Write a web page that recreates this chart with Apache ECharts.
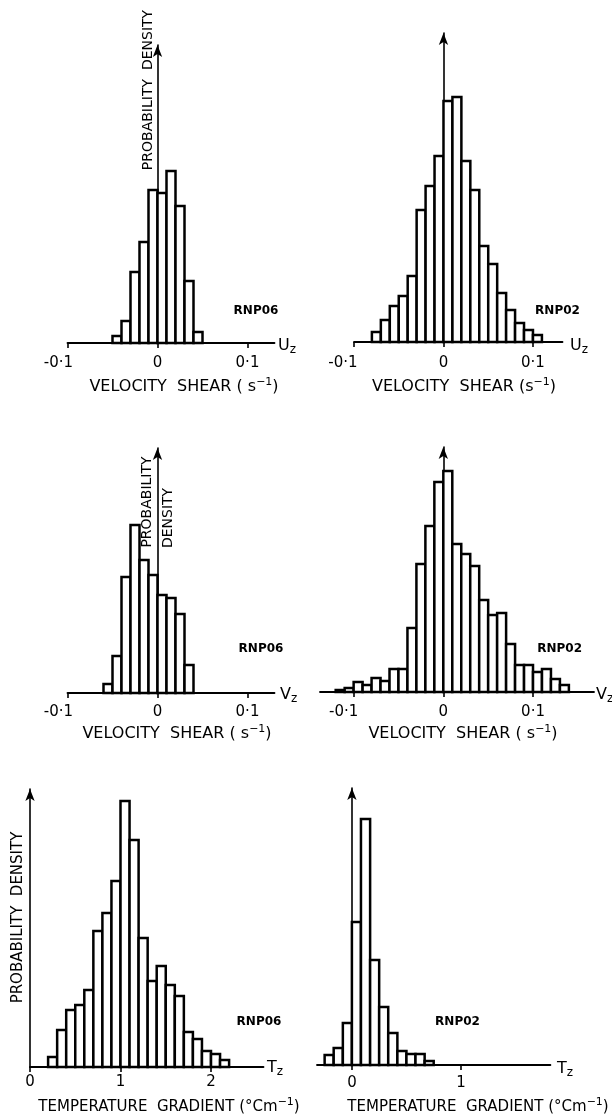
<!DOCTYPE html>
<html><head><meta charset="utf-8">
<script src="https://cdn.jsdelivr.net/npm/echarts@6/dist/echarts.min.js"></script>
<style>html,body{margin:0;padding:0;background:#fff}#c{width:612px;height:1114px}</style>
</head><body><div id="c"></div><script>
// ---- data (relative probability density, arbitrary units) ----
const uzEdges06 = [-0.05,-0.04,-0.03,-0.02,-0.01,0,0.01,0.02,0.03,0.04,0.05];
const uzDensity06 = [7,22,71,101,153,150,172,137,62,11];
const uzEdges02 = [-0.08,-0.07,-0.06,-0.05,-0.04,-0.03,-0.02,-0.01,0,0.01,0.02,0.03,0.04,0.05,0.06,0.07,0.08,0.09,0.10,0.11];
const uzDensity02 = [10,22,36,46,66,132,156,186,241,245,181,152,96,78,49,32,19,12,7];
const vzEdges06 = [-0.06,-0.05,-0.04,-0.03,-0.02,-0.01,0,0.01,0.02,0.03,0.04];
const vzDensity06 = [9,37,116,168,133,118,98,95,79,28];
const vzEdges02 = [-0.12,-0.11,-0.10,-0.09,-0.08,-0.07,-0.06,-0.05,-0.04,-0.03,-0.02,-0.01,0,0.01,0.02,0.03,0.04,0.05,0.06,0.07,0.08,0.09,0.10,0.11,0.12,0.13,0.14];
const vzDensity02 = [2,4,10,7,14,11,23,23,64,128,166,210,221,148,138,126,92,77,79,48,27,27,20,23,13,7];
const tzEdges06 = [0.2,0.3,0.4,0.5,0.6,0.7,0.8,0.9,1.0,1.1,1.2,1.3,1.4,1.5,1.6,1.7,1.8,1.9,2.0,2.1,2.2];
const tzDensity06 = [10,37,57,62,77,136,154,186,266,227,129,86,101,82,71,35,28,16,13,7];
const tzEdges02 = [-0.25,-0.167,-0.083,0,0.083,0.167,0.25,0.333,0.417,0.5,0.583,0.667,0.75];
const tzDensity02 = [10,17,42,143,246,105,58,32,14,11,11,4];
const velocityTicks = [-0.1, 0, 0.1];
const tempTicks06 = [0, 1, 2];
const tempTicks02 = [0, 1];

const FONT = 'DejaVu Sans';
const panels = [
  {grid:{left:67.5, top:45, width:207, height:298}, x:[-0.1,0.13], yMax:298, edges:uzEdges06, dens:uzDensity06, ticks:velocityTicks, margin:13, negPad:18},
  {grid:{left:354, top:33, width:208.5, height:309}, x:[-0.1,0.133], yMax:309, edges:uzEdges02, dens:uzDensity02, ticks:velocityTicks, margin:14, negPad:22},
  {grid:{left:67.5, top:448, width:207, height:245}, x:[-0.1,0.13], yMax:245, edges:vzEdges06, dens:vzDensity06, ticks:velocityTicks, margin:12, negPad:18},
  {grid:{left:320, top:447, width:274, height:245}, x:[-0.1375,0.168], yMax:245, edges:vzEdges02, dens:vzDensity02, ticks:velocityTicks, margin:13, negPad:20},
  {grid:{left:30, top:789, width:233.5, height:278}, x:[0,2.58], yMax:278, edges:tzEdges06, dens:tzDensity06, ticks:tempTicks06, margin:8, negPad:0},
  {grid:{left:317, top:788, width:233.4, height:277}, x:[-0.32,1.82], yMax:277, edges:tzEdges02, dens:tzDensity02, ticks:tempTicks02, margin:11, negPad:0}
];

function fmt(v){
  if (Math.abs(v) < 1e-9) return '0';
  const s = String(Math.round(v*10)/10).replace('.', '\u00B7');
  return v < 0 ? '{n|' + s + '}' : s;
}

const grids = [], xAxes = [], yAxes = [], series = [];
panels.forEach((p, i) => {
  grids.push(Object.assign({containLabel:false}, p.grid));
  xAxes.push({
    type:'value', gridIndex:i, min:p.x[0], max:p.x[1],
    axisLine:{show:true, onZero:true, lineStyle:{color:'#000', width:1.8}},
    axisTick:{show:true, customValues:p.ticks, length:5, lineStyle:{color:'#000', width:1.6}},
    axisLabel:{show:true, customValues:p.ticks, formatter:fmt, color:'#000', fontSize:15, fontFamily:FONT, margin:p.margin,
      rich:{n:{fontSize:15, fontFamily:FONT, color:'#000', padding:[0,p.negPad,0,0]}}},
    splitLine:{show:false}
  });
  yAxes.push({
    type:'value', gridIndex:i, min:0, max:p.yMax,
    axisLine:{show:true, onZero:true, symbol:['none','arrow'], symbolSize:[7,12], lineStyle:{color:'#000', width:1.6}},
    axisTick:{show:false}, axisLabel:{show:false}, splitLine:{show:false}
  });
  const data = p.dens.map((d, k) => [p.edges[k], p.edges[k+1], d]);
  series.push({
    type:'custom', coordinateSystem:'cartesian2d', xAxisIndex:i, yAxisIndex:i,
    encode:{x:[0,1], y:2}, clip:false, z:3,
    data:data,
    renderItem:function(params, api){
      const a = api.coord([api.value(0), 0]);
      const b = api.coord([api.value(1), api.value(2)]);
      return {type:'rect', shape:{x:a[0], y:b[1], width:b[0]-a[0], height:a[1]-b[1]},
        style:{fill:'#fff', stroke:'#000', lineWidth:2.5}};
    }
  });
});

function label(x, y, text, o){
  o = o || {};
  return {type:'text', x:x, y:y, rotation:o.rot||0, z:10,
    style:{text:text, fill:'#000', fontSize:o.size||14, fontFamily:FONT, fontWeight:o.weight||'normal',
      align:o.align||'center', verticalAlign:'middle', lineHeight:o.lh, rich:o.rich}};
}
const supRich = {sup:{fontSize:11, fontFamily:FONT, fill:'#000', verticalAlign:'top', lineHeight:10}};
const subRich = {b:{fontSize:16, fontFamily:FONT, fill:'#000', lineHeight:20}, s:{fontSize:12, fontFamily:FONT, fill:'#000', verticalAlign:'bottom', lineHeight:14}};

const graphics = [
  label(148, 90, 'PROBABILITY  DENSITY', {rot:Math.PI/2, size:14}),
  label(147.5, 502, 'PROBABILITY', {rot:Math.PI/2, size:14}),
  label(168.3, 518, 'DENSITY', {rot:Math.PI/2, size:14}),
  label(18.3, 917.5, 'PROBABILITY  DENSITY', {rot:Math.PI/2, size:15}),
  label(256, 311, 'RNP06', {size:12, weight:'bold'}),
  label(557.5, 311, 'RNP02', {size:12, weight:'bold'}),
  label(261, 649, 'RNP06', {size:12, weight:'bold'}),
  label(559.6, 649, 'RNP02', {size:12, weight:'bold'}),
  label(259, 1022, 'RNP06', {size:12, weight:'bold'}),
  label(457.5, 1022, 'RNP02', {size:12, weight:'bold'}),
  label(278, 346, '{b|U}{s|z}', {align:'left', rich:subRich}),
  label(570, 346, '{b|U}{s|z}', {align:'left', rich:subRich}),
  label(280, 695, '{b|V}{s|z}', {align:'left', rich:subRich}),
  label(596, 695, '{b|V}{s|z}', {align:'left', rich:subRich}),
  label(267, 1068, '{b|T}{s|z}', {align:'left', rich:subRich}),
  label(557, 1069, '{b|T}{s|z}', {align:'left', rich:subRich}),
  label(184, 387, 'VELOCITY  SHEAR ( s{sup|\u22121})', {size:16, lh:20, rich:supRich}),
  label(464, 387, 'VELOCITY  SHEAR (s{sup|\u22121})', {size:16, lh:20, rich:supRich}),
  label(177, 734, 'VELOCITY  SHEAR ( s{sup|\u22121})', {size:16, lh:20, rich:supRich}),
  label(463, 734, 'VELOCITY  SHEAR ( s{sup|\u22121})', {size:16, lh:20, rich:supRich}),
  label(169, 1107, 'TEMPERATURE  GRADIENT (\u00B0Cm{sup|\u22121})', {size:15, lh:20, rich:supRich}),
  label(478, 1107, 'TEMPERATURE  GRADIENT (\u00B0Cm{sup|\u22121})', {size:15, lh:20, rich:supRich})
];

const chart = echarts.init(document.getElementById('c'), null, {renderer:'canvas'});
chart.setOption({
  animation:false, backgroundColor:'#fff',
  grid:grids, xAxis:xAxes, yAxis:yAxes, series:series, graphic:graphics
});
</script></body></html>
